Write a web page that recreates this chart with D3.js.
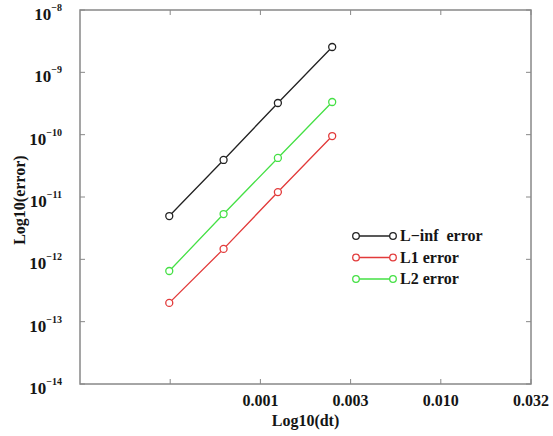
<!DOCTYPE html>
<html>
<head>
<meta charset="utf-8">
<script src="https://cdn.jsdelivr.net/npm/d3@7"></script>
<style>
  body { margin: 0; background: #fff; }
  text { font-family: "Liberation Serif", "DejaVu Serif", serif; font-weight: bold; fill: #151515; }
</style>
</head>
<body>
<svg id="chart" width="553" height="436"></svg>
<script>
// time steps (dt)
const dt = [3.125e-4, 6.25e-4, 1.25e-3, 2.5e-3];

// error series
const linfError = [4.95e-12, 3.93e-11, 3.22e-10, 2.55e-9];
const l1Error = [2.0e-13, 1.47e-12, 1.2e-11, 9.5e-11];
const l2Error = [6.5e-13, 5.33e-12, 4.23e-11, 3.34e-10];

const seriesNames = ["L\u2212inf  error", "L1 error", "L2 error"];
const seriesColors = ["#222", "#e23a3a", "#45e045"];

// x ticks (log10 of dt) and their labels
const xTickExps = [-3.5, -3, -2.5, -2, -1.5];
const xTickLabels = ["", "0.001", "0.003", "0.010", "0.032"];
// y ticks (decades)
const yTickExps = [-8, -9, -10, -11, -12, -13, -14];

const svg = d3.select("#chart");
const margin = { left: 80, top: 10, right: 22, bottom: 52 };
const W = 553, H = 436;

const x = d3.scaleLinear().domain([-4, -1.5]).range([margin.left, W - margin.right]);
const y = d3.scaleLinear().domain([-14, -8]).range([H - margin.bottom, margin.top]);

const axisColor = "#888";

// frame
svg.append("rect")
  .attr("x", x(-4)).attr("y", y(-8))
  .attr("width", x(-1.5) - x(-4)).attr("height", y(-14) - y(-8))
  .attr("fill", "none").attr("stroke", axisColor).attr("stroke-width", 1.5);

const tickLen = 5;
const g = svg.append("g").attr("stroke", axisColor).attr("stroke-width", 1);

xTickExps.forEach(e => {
  g.append("line").attr("x1", x(e)).attr("x2", x(e)).attr("y1", y(-14)).attr("y2", y(-14) - tickLen);
  g.append("line").attr("x1", x(e)).attr("x2", x(e)).attr("y1", y(-8)).attr("y2", y(-8) + tickLen);
});
yTickExps.forEach(e => {
  g.append("line").attr("x1", x(-4)).attr("x2", x(-4) + tickLen).attr("y1", y(e)).attr("y2", y(e));
  g.append("line").attr("x1", x(-1.5)).attr("x2", x(-1.5) - tickLen).attr("y1", y(e)).attr("y2", y(e));
});

// x tick labels
xTickExps.forEach((e, i) => {
  svg.append("text")
    .attr("x", x(e)).attr("y", y(-14) + 22)
    .attr("text-anchor", "middle")
    .attr("font-size", 16)
    .text(xTickLabels[i]);
});

// y tick labels with superscript exponent
yTickExps.forEach(e => {
  const t = svg.append("text")
    .attr("x", 62).attr("y", y(e) + 10)
    .attr("text-anchor", "end")
    .attr("font-size", 17);
  t.append("tspan").text("10");
  t.append("tspan")
    .attr("dy", -9)
    .attr("font-size", 10)
    .text("\u2212" + Math.abs(e));
});

// axis titles
svg.append("text")
  .attr("x", x(-2.75)).attr("y", 426)
  .attr("text-anchor", "middle")
  .attr("font-size", 16)
  .text("Log10(dt)");

svg.append("text")
  .attr("transform", `translate(25,${y(-11.05)}) rotate(-90)`)
  .attr("text-anchor", "middle")
  .attr("font-size", 16)
  .text("Log10(error)");

// series
const allSeries = [linfError, l1Error, l2Error];
const line = d3.line()
  .x(d => x(Math.log10(d[0])))
  .y(d => y(Math.log10(d[1])));

allSeries.forEach((vals, si) => {
  const pts = dt.map((d, i) => [d, vals[i]]);
  svg.append("path")
    .attr("d", line(pts))
    .attr("fill", "none")
    .attr("stroke", seriesColors[si])
    .attr("stroke-width", 1.3);
  svg.selectAll(null)
    .data(pts)
    .enter().append("circle")
    .attr("cx", d => x(Math.log10(d[0])))
    .attr("cy", d => y(Math.log10(d[1])))
    .attr("r", 3.5)
    .attr("fill", "#fff")
    .attr("stroke", seriesColors[si])
    .attr("stroke-width", 1.3);
});

// legend
const legendX = 356, legendY = 236, legendStep = 21.5;
seriesNames.forEach((name, i) => {
  const ly = legendY + i * legendStep;
  const lg = svg.append("g");
  lg.append("line")
    .attr("x1", legendX).attr("x2", legendX + 37)
    .attr("y1", ly).attr("y2", ly)
    .attr("stroke", seriesColors[i]).attr("stroke-width", 1.3);
  [legendX, legendX + 37].forEach(cx => {
    lg.append("circle")
      .attr("cx", cx).attr("cy", ly).attr("r", 3.3)
      .attr("fill", "#fff")
      .attr("stroke", seriesColors[i]).attr("stroke-width", 1.3);
  });
  lg.append("text")
    .attr("x", legendX + 44).attr("y", ly + 5)
    .attr("font-size", 16)
    .style("white-space", "pre")
    .text(name);
});
</script>
</body>
</html>
